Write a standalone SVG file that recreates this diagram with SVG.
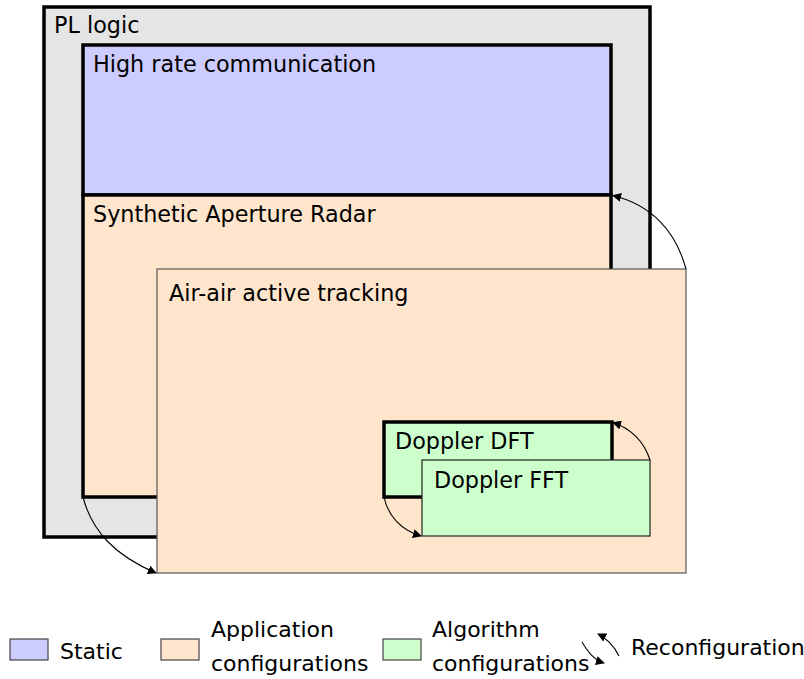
<svg xmlns="http://www.w3.org/2000/svg" width="804" height="679" viewBox="0 0 804 679">
<defs>
<marker id="ah" viewBox="0 0 10 10" refX="9" refY="5" markerWidth="9" markerHeight="9" markerUnits="userSpaceOnUse" orient="auto">
<path d="M0,0 L10,5 L0,10 Z" fill="#000"/>
</marker>
<style>
text{font-family:"DejaVu Sans","Liberation Sans",sans-serif;font-size:22.3px;fill:#000}
.lg{font-size:22px}
.thick{stroke:#000;stroke-width:3.5}
.thin{stroke:#555;stroke-width:1.2}
.conn{fill:none;stroke:#000;stroke-width:1.1;marker-end:url(#ah)}
.leg{stroke:#444;stroke-width:1.2}
</style>
</defs>
<g id="pl-logic"><rect x="44" y="7" width="606" height="530" fill="#e5e5e5" class="thick"/><text x="54" y="33">PL logic</text></g>
<g id="high-rate"><rect x="83" y="45" width="528" height="150" fill="#ccccff" class="thick"/><text x="93" y="72">High rate communication</text></g>
<g id="sar"><rect x="83" y="195" width="528" height="302" fill="#ffe5cc" class="thick"/><text x="93" y="222">Synthetic Aperture Radar</text></g>
<g id="air-air"><rect x="157" y="269" width="529" height="304" fill="#ffe5cc" class="thin"/><text x="169" y="301">Air-air active tracking</text></g>
<g id="dft"><rect x="384" y="422" width="228" height="75" fill="#ccffcc" class="thick"/><text x="395" y="449">Doppler DFT</text></g>
<g id="fft"><rect x="422" y="460" width="228" height="76" fill="#ccffcc" stroke="#222" stroke-width="1.2"/><text x="434" y="488">Doppler FFT</text></g>
<g id="connectors">
<path class="conn" d="M686,269 C676,232 652,205 613,195.5"/>
<path class="conn" d="M83,497 C92,532 116,556 156,573"/>
<path class="conn" d="M650,460 C644,441 630,428 613,422.5"/>
<path class="conn" d="M384,497 C388,516 401,530 421,536"/>
</g>
<g id="legend">
<rect x="10" y="639" width="38" height="21" fill="#ccccff" class="leg"/><text class="lg" x="60" y="659">Static</text>
<rect x="161" y="639" width="38" height="21" fill="#ffe5cc" class="leg"/><text class="lg" x="211" y="637">Application</text><text class="lg" x="211" y="671">configurations</text>
<rect x="383" y="639" width="38" height="21" fill="#ccffcc" class="leg"/><text class="lg" x="432" y="637">Algorithm</text><text class="lg" x="432" y="671">configurations</text>
<path class="conn" d="M582,642 C588,652 594,660 604,663"/>
<path class="conn" d="M619,656 C614,646 608,639 598,634"/>
<text class="lg" x="631" y="655">Reconfiguration</text>
</g>
</svg>
